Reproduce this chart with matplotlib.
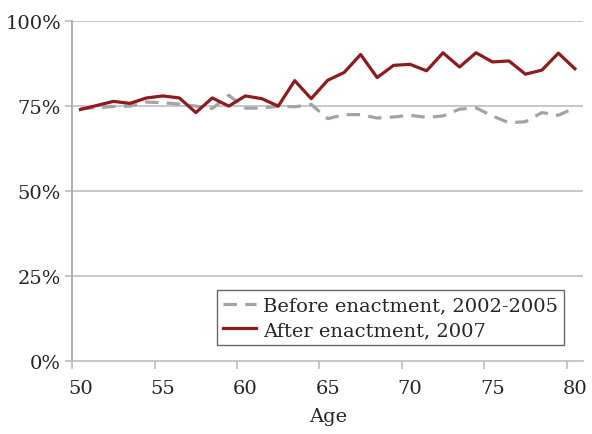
import numpy as np
import matplotlib
matplotlib.use("Agg")
import matplotlib.pyplot as plt

# Share of people in each single-year age group (percent)
ages = list(range(50, 81))
before = [74.3, 74.5, 74.9, 75.0, 76.2, 76.0, 75.6, 75.0, 74.3, 78.2,
          74.4, 74.4, 75.0, 74.8, 75.5, 71.3, 72.5, 72.5, 71.5, 71.8,
          72.3, 71.7, 72.1, 74.1, 74.5, 72.1, 70.1, 70.4, 73.1, 72.3, 74.5]
after = [74.0, 75.2, 76.4, 75.8, 77.4, 78.0, 77.4, 73.1, 77.4, 75.0,
         78.0, 77.2, 75.0, 82.5, 77.2, 82.6, 84.9, 90.2, 83.4, 87.0,
         87.3, 85.4, 90.7, 86.5, 90.7, 88.0, 88.3, 84.4, 85.6, 90.6, 86.0]
label_ages = [50, 55, 60, 65, 70, 75, 80]
y_ticks = [0, 25, 50, 75, 100]

plt.rcParams["font.family"] = "DejaVu Serif"
text_col = "#262626"
grid_col = "#BEBEBE"

fig = plt.figure(figsize=(5.92, 4.35), dpi=100)
ax = fig.add_axes([0.122, 0.168, 0.863, 0.781])

for v in y_ticks[1:]:
    ax.axhline(v, color=grid_col, lw=1.2, zorder=1)

ax.plot(ages, before, color="#A3A3A3", lw=2.3, ls=(0, (4.2, 2.6)),
        label="Before enactment, 2002-2005", zorder=3)
ax.plot(ages, after, color="#8E1B1E", lw=2.3,
        label="After enactment, 2007", zorder=4)

ax.set_xlim(49.5, 80.5)
ax.set_ylim(0, 100)

# category-style axis: ticks on boundaries, labels centred on categories
ax.set_xticks([a - 0.5 for a in label_ages])
ax.set_xticklabels([])
ax.set_xticks(label_ages, minor=True)
ax.set_xticklabels([str(a) for a in label_ages], minor=True)
ax.tick_params(axis="x", which="major", length=6, width=1.2, color=grid_col,
               direction="out")
ax.tick_params(axis="x", which="minor", length=0, pad=13, labelsize=14,
               labelcolor=text_col)

ax.set_yticks(y_ticks)
ax.set_yticklabels([f"{v}%" for v in y_ticks])
ax.tick_params(axis="y", length=5, width=1.2, color=grid_col, pad=3,
               labelsize=14, labelcolor=text_col)

for s in ["top", "right"]:
    ax.spines[s].set_visible(False)
ax.spines["left"].set_color("#A6A6A6")
ax.spines["left"].set_linewidth(1.2)
ax.spines["bottom"].set_color(grid_col)
ax.spines["bottom"].set_linewidth(1.2)

ax.set_xlabel("Age", fontsize=14, color=text_col, labelpad=7)

leg = ax.legend(loc="lower right", bbox_to_anchor=(0.963, 0.047),
                fontsize=14, frameon=True, fancybox=False,
                handlelength=1.7, handletextpad=0.4, borderpad=0.3,
                labelspacing=0.35, borderaxespad=0)
leg.get_frame().set_edgecolor("#404040")
leg.get_frame().set_linewidth(1.0)
for t in leg.get_texts():
    t.set_color(text_col)

fig.savefig("out.png", dpi=100)
